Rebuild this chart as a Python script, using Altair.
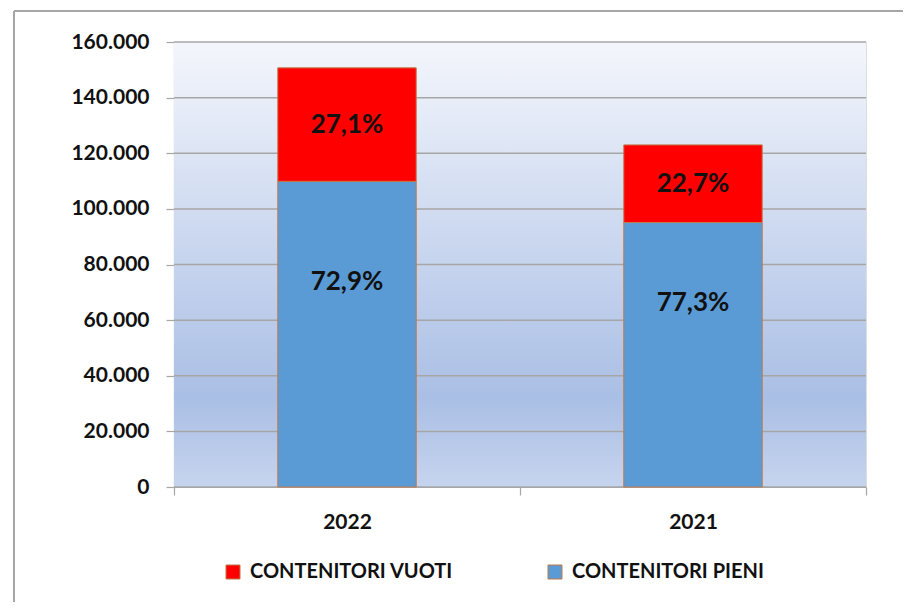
import altair as alt
import pandas as pd

years = ["2022", "2021"]
series = ["CONTENITORI PIENI", "CONTENITORI VUOTI"]
pieni = [109900, 95100]
vuoti = [40800, 27900]
pct_pieni = ["72,9%", "77,3%"]
pct_vuoti = ["27,1%", "22,7%"]
y_ticks = [0, 20000, 40000, 60000, 80000, 100000, 120000, 140000, 160000]

FONT = "Lato"
BLUE = "#5b9bd5"
RED = "#ff0000"
EDGE = "#c0784a"
GRID = "#a6a6a6"

rows = []
for i, yr in enumerate(years):
    rows.append({"anno": yr, "serie": series[0], "valore": pieni[i], "ord": 0,
                 "pct": pct_pieni[i], "mid": pieni[i] / 2})
    rows.append({"anno": yr, "serie": series[1], "valore": vuoti[i], "ord": 1,
                 "pct": pct_vuoti[i], "mid": pieni[i] + vuoti[i] / 2})
df = pd.DataFrame(rows)
grid_df = pd.DataFrame({"t": y_ticks})

W, H = 692, 445

x_enc = alt.X("anno:N", sort=years,
              scale=alt.Scale(paddingInner=0, paddingOuter=0),
              axis=alt.Axis(title=None, tickBand="extent", labelAngle=0,
                            labelFont=FONT, labelFontSize=21, labelFontWeight="bold",
                            labelColor="#111111", labelPadding=16, tickSize=8,
                            domainColor=GRID, tickColor=GRID, domainWidth=1.2,
                            tickWidth=1.2, grid=False))
y_scale = alt.Scale(domain=[0, 160000], nice=False)

background = alt.Chart(grid_df).mark_rect(
    color=alt.Gradient(
        gradient="linear",
        stops=[alt.GradientStop(color="#f4f6fc", offset=0),
               alt.GradientStop(color="#aabfe5", offset=0.8),
               alt.GradientStop(color="#c6d4ee", offset=1)],
        x1=0, x2=0, y1=0, y2=1),
).encode(x=alt.value(0), x2=alt.value("width"),
         y=alt.value(0), y2=alt.value("height"))

gridlines = alt.Chart(grid_df).mark_rule(color=GRID, strokeWidth=1.5).encode(
    y=alt.Y("t:Q", scale=y_scale,
            axis=alt.Axis(title=None, values=y_ticks, grid=False,
                          labelExpr="replace(format(datum.value, ','), ',', '.')",
                          labelFont=FONT, labelFontSize=21, labelFontWeight="bold",
                          labelColor="#111111", labelPadding=17, tickSize=8,
                          domainColor=GRID, tickColor=GRID, domainWidth=1.2,
                          tickWidth=1.2)),
    x=alt.value(0), x2=alt.value("width"))

bars = alt.Chart(df).mark_bar(stroke=EDGE, strokeWidth=1,
                              width=alt.RelativeBandSize(0.4)).encode(
    x=x_enc,
    y=alt.Y("valore:Q", stack="zero", scale=y_scale),
    color=alt.Color("serie:N",
                    scale=alt.Scale(domain=[series[1], series[0]], range=[RED, BLUE]),
                    legend=alt.Legend(title=None, orient="none", direction="horizontal",
                                      legendX=49, legendY=520, padding=0,
                                      symbolType="square", symbolSize=196,
                                      symbolStrokeColor=EDGE, symbolStrokeWidth=1,
                                      symbolOpacity=1, labelLimit=0,
                                      labelFont=FONT, labelFontSize=20,
                                      labelFontWeight="bold", labelColor="#111111",
                                      labelOffset=7, columnPadding=92)),
    order=alt.Order("ord:Q"),
)

labels_top = alt.Chart(df).transform_filter(alt.datum.ord == 1).mark_text(
    font=FONT, fontSize=26, fontWeight="bold", color="#111111", baseline="middle"
).encode(x=alt.X("anno:N", sort=years), y=alt.Y("mid:Q", scale=y_scale), text="pct:N")

labels_bottom = alt.Chart(df).transform_filter(alt.datum.ord == 0).mark_text(
    font=FONT, fontSize=26, fontWeight="bold", color="#111111", baseline="middle", dy=-52
).encode(x=alt.X("anno:N", sort=years), y=alt.Y("mid:Q", scale=y_scale), text="pct:N")

frame_left = alt.Chart(grid_df).mark_rule(color="#a6a6a6", strokeWidth=1.5, clip=False).encode(
    x=alt.value(-160), y=alt.value(-31), y2=alt.value(H + 140))
frame_top = alt.Chart(grid_df).mark_rule(color="#a6a6a6", strokeWidth=1.5, clip=False).encode(
    x=alt.value(-160), x2=alt.value(W + 37), y=alt.value(-31))

chart = alt.layer(background, gridlines, bars, labels_top, labels_bottom,
                  frame_left, frame_top).properties(
    width=W, height=H,
    autosize=alt.AutoSizeParams(type="none"),
    padding={"left": 166, "top": 34, "right": 37, "bottom": 115},
).configure_view(stroke=None).configure(background="white")

chart.save("out.html", embed_options={"renderer": "svg", "actions": False})
